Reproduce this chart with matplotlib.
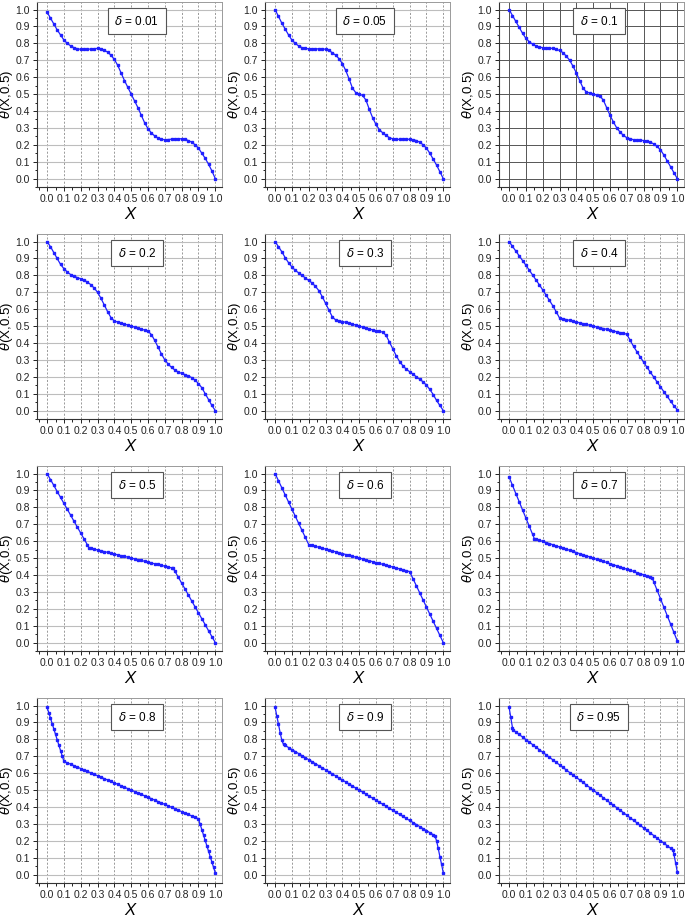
import matplotlib
matplotlib.use('Agg')
import matplotlib.pyplot as plt
from matplotlib.ticker import MultipleLocator, FormatStrFormatter

plt.rcParams['font.family'] = ['Liberation Sans', 'DejaVu Sans']
plt.rcParams['mathtext.fontset'] = 'dejavusans'

# ---------------- data ----------------
X02 = [0.00, 0.02, 0.04, 0.06, 0.08, 0.10, 0.12, 0.14, 0.16, 0.18, 0.20, 0.22, 0.24,
       0.26, 0.28, 0.30, 0.32, 0.34, 0.36, 0.38, 0.40, 0.42, 0.44, 0.46, 0.48, 0.50,
       0.52, 0.54, 0.56, 0.58, 0.60, 0.62, 0.64, 0.66, 0.68, 0.70, 0.72, 0.74, 0.76,
       0.78, 0.80, 0.82, 0.84, 0.86, 0.88, 0.90, 0.92, 0.94, 0.96, 0.98, 1.00]

deltas = ['0.01', '0.05', '0.1', '0.2', '0.3', '0.4', '0.5', '0.6', '0.7', '0.8', '0.9', '0.95']

x_d001 = X02
y_d001 = [0.985, 0.95, 0.915, 0.88, 0.85, 0.82, 0.80, 0.785, 0.775, 0.768, 0.765, 0.764, 0.765,
          0.767, 0.769, 0.77, 0.768, 0.76, 0.748, 0.73, 0.705, 0.67, 0.625, 0.58, 0.54, 0.50,
          0.46, 0.42, 0.375, 0.33, 0.295, 0.27, 0.252, 0.24, 0.232, 0.23, 0.231, 0.233, 0.235,
          0.236, 0.235, 0.232, 0.225, 0.215, 0.20, 0.18, 0.15, 0.12, 0.085, 0.045, 0.0]

x_d005 = X02
y_d005 = [1.0, 0.96, 0.92, 0.885, 0.85, 0.82, 0.80, 0.785, 0.775, 0.77, 0.768, 0.767, 0.767,
          0.768, 0.768, 0.765, 0.758, 0.745, 0.73, 0.71, 0.68, 0.64, 0.59, 0.535, 0.508, 0.50,
          0.492, 0.465, 0.41, 0.36, 0.32, 0.29, 0.27, 0.255, 0.242, 0.235, 0.232, 0.232, 0.233,
          0.233, 0.232, 0.23, 0.225, 0.215, 0.20, 0.18, 0.15, 0.115, 0.08, 0.04, 0.0]

x_d01 = X02
y_d01 = [1.0, 0.965, 0.93, 0.895, 0.86, 0.83, 0.81, 0.795, 0.785, 0.778, 0.775, 0.773, 0.772,
         0.77, 0.765, 0.758, 0.745, 0.725, 0.70, 0.665, 0.625, 0.58, 0.535, 0.512, 0.506, 0.50,
         0.494, 0.488, 0.465, 0.42, 0.375, 0.335, 0.30, 0.275, 0.255, 0.242, 0.235, 0.23, 0.228,
         0.227, 0.225, 0.222, 0.215, 0.205, 0.19, 0.17, 0.14, 0.105, 0.07, 0.035, 0.0]

x_d02 = X02
y_d02 = [1.0, 0.97, 0.935, 0.90, 0.865, 0.84, 0.82, 0.805, 0.795, 0.787, 0.78, 0.772, 0.76,
         0.745, 0.725, 0.70, 0.665, 0.625, 0.585, 0.55, 0.53, 0.524, 0.518, 0.512, 0.506, 0.50,
         0.494, 0.488, 0.482, 0.476, 0.47, 0.45, 0.415, 0.375, 0.335, 0.30, 0.275, 0.255, 0.24,
         0.228, 0.22, 0.213, 0.205, 0.195, 0.18, 0.16, 0.135, 0.10, 0.065, 0.03, 0.0]

x_d03 = X02
y_d03 = [1.0, 0.97, 0.94, 0.905, 0.875, 0.85, 0.83, 0.815, 0.80, 0.785, 0.77, 0.755, 0.735,
         0.71, 0.675, 0.635, 0.595, 0.555, 0.536, 0.531, 0.527, 0.522, 0.518, 0.511, 0.506, 0.50,
         0.494, 0.489, 0.482, 0.478, 0.473, 0.469, 0.464, 0.445, 0.405, 0.365, 0.325, 0.29, 0.265,
         0.245, 0.23, 0.215, 0.20, 0.185, 0.17, 0.15, 0.125, 0.095, 0.06, 0.03, 0.0]

x_d04 = X02
y_d04 = [1.0, 0.972, 0.944, 0.916, 0.888, 0.86, 0.831, 0.802, 0.773, 0.744, 0.714, 0.683, 0.652,
         0.62, 0.585, 0.548, 0.5432, 0.5384, 0.5336, 0.5288, 0.524, 0.5192, 0.5144, 0.5096, 0.5048, 0.50,
         0.4952, 0.4904, 0.4856, 0.4808, 0.476, 0.4712, 0.4664, 0.4616, 0.4568, 0.452, 0.415, 0.38, 0.348,
         0.317, 0.286, 0.256, 0.227, 0.198, 0.169, 0.14, 0.112, 0.084, 0.056, 0.028, 0.005]

x_d05 = sorted(X02 + [0.25, 0.75])
y_d05 = [1.0, 0.965, 0.93, 0.894, 0.859, 0.824, 0.789, 0.754, 0.718, 0.683, 0.648, 0.613, 0.578,
         0.56, 0.558, 0.553, 0.548, 0.543, 0.538, 0.534, 0.529, 0.524, 0.519, 0.514, 0.51, 0.505, 0.50,
         0.495, 0.49, 0.486, 0.481, 0.476, 0.471, 0.466, 0.462, 0.457, 0.452, 0.447, 0.442, 0.44,
         0.422, 0.387, 0.352, 0.317, 0.282, 0.246, 0.211, 0.176, 0.141, 0.106, 0.07, 0.035, 0.0]

x_d06 = X02
y_d06 = [1.0, 0.958, 0.916, 0.874, 0.832, 0.79, 0.748, 0.706, 0.664, 0.622, 0.58, 0.575, 0.569,
         0.564, 0.559, 0.553, 0.548, 0.543, 0.537, 0.532, 0.527, 0.521, 0.516, 0.511, 0.505, 0.50,
         0.495, 0.489, 0.484, 0.479, 0.473, 0.468, 0.463, 0.457, 0.452, 0.447, 0.441, 0.436, 0.431,
         0.425, 0.42, 0.378, 0.336, 0.294, 0.252, 0.21, 0.168, 0.126, 0.084, 0.042, 0.0]

x_d07 = sorted(X02 + [0.15, 0.85])
y_d07 = [0.98, 0.931, 0.882, 0.834, 0.785, 0.737, 0.688, 0.64, 0.615, 0.612, 0.605, 0.599, 0.592,
         0.586, 0.579, 0.572, 0.566, 0.559, 0.553, 0.546, 0.539, 0.533, 0.526, 0.52, 0.513, 0.507, 0.50,
         0.493, 0.487, 0.48, 0.474, 0.467, 0.461, 0.454, 0.447, 0.441, 0.434, 0.428, 0.421, 0.414,
         0.408, 0.401, 0.395, 0.388, 0.385, 0.36, 0.31, 0.26, 0.21, 0.16, 0.11, 0.06, 0.01]

x_d08 = sorted(X02 + [0.01, 0.03, 0.05, 0.07, 0.09, 0.91, 0.93, 0.95, 0.97, 0.99])
y_d08 = [0.99, 0.958, 0.926, 0.894, 0.862, 0.83, 0.798, 0.766, 0.734, 0.702, 0.67,
         0.6615, 0.653, 0.6445, 0.636, 0.6275, 0.619, 0.6105, 0.602, 0.5935, 0.585, 0.5765, 0.568,
         0.5595, 0.551, 0.5425, 0.534, 0.5255, 0.517, 0.5085, 0.50,
         0.4915, 0.483, 0.4745, 0.466, 0.4575, 0.449, 0.4405, 0.432, 0.4235, 0.415, 0.4065, 0.398,
         0.3895, 0.381, 0.3725, 0.364, 0.3555, 0.347, 0.3385, 0.33,
         0.298, 0.266, 0.234, 0.202, 0.17, 0.138, 0.106, 0.074, 0.042, 0.01]

x_d09 = sorted(X02 + [0.01, 0.03, 0.05, 0.95, 0.97, 0.99])
y_d09 = [0.99, 0.94, 0.89, 0.84, 0.795, 0.77,
         0.764, 0.752, 0.74, 0.728, 0.716, 0.704, 0.692, 0.68, 0.668, 0.656, 0.644, 0.632, 0.62,
         0.608, 0.596, 0.584, 0.572, 0.56, 0.548, 0.536, 0.524, 0.512, 0.50,
         0.488, 0.476, 0.464, 0.452, 0.44, 0.428, 0.416, 0.404, 0.392, 0.38, 0.368, 0.356, 0.344,
         0.332, 0.32, 0.308, 0.296, 0.284, 0.272, 0.26, 0.248, 0.236,
         0.23, 0.20, 0.155, 0.105, 0.06, 0.01]

x_d095 = sorted(X02 + [0.01, 0.025, 0.975, 0.99])
y_d095 = [0.99, 0.93, 0.87, 0.855,
          0.844, 0.829, 0.814, 0.799, 0.784, 0.769, 0.754, 0.739, 0.724, 0.709, 0.694, 0.679,
          0.664, 0.649, 0.634, 0.619, 0.604, 0.589, 0.575, 0.56, 0.545, 0.53, 0.515, 0.50,
          0.485, 0.47, 0.455, 0.44, 0.425, 0.411, 0.396, 0.381, 0.366, 0.351, 0.336, 0.321,
          0.306, 0.291, 0.276, 0.261, 0.246, 0.231, 0.216, 0.201, 0.186, 0.171, 0.156,
          0.145, 0.12, 0.07, 0.015]

series_x = [x_d001, x_d005, x_d01, x_d02, x_d03, x_d04, x_d05, x_d06, x_d07, x_d08, x_d09, x_d095]
series_y = [y_d001, y_d005, y_d01, y_d02, y_d03, y_d04, y_d05, y_d06, y_d07, y_d08, y_d09, y_d095]

# ---------------- layout ----------------
W, H = 685, 919
fig = plt.figure(figsize=(W / 100, H / 100), dpi=100)
col_left = [37, 265, 499]
row_top = [2, 234, 466, 698]
aw, ah = 185, 185

for i, (d, xs, ys) in enumerate(zip(deltas, series_x, series_y)):
    r, c = divmod(i, 3)
    ax = fig.add_axes([col_left[c] / W, 1 - (row_top[r] + ah) / H, aw / W, ah / H])
    ax.set_xlim(-0.06, 1.04)
    ax.set_ylim(-0.05, 1.045)
    ax.xaxis.set_major_locator(MultipleLocator(0.1))
    ax.yaxis.set_major_locator(MultipleLocator(0.1))
    ax.xaxis.set_minor_locator(MultipleLocator(0.05))
    ax.yaxis.set_minor_locator(MultipleLocator(0.05))
    ax.xaxis.set_major_formatter(FormatStrFormatter('%.1f'))
    ax.yaxis.set_major_formatter(FormatStrFormatter('%.1f'))
    ax.tick_params(which='both', direction='out', labelsize=7.5, colors='#222222',
                   top=False, right=False, width=0.7)
    ax.tick_params(which='major', length=3, pad=2)
    ax.tick_params(which='minor', length=1.8)
    if d == '0.1':
        ax.grid(True, which='major', axis='both', color='#555555', lw=0.7, ls='-')
    else:
        ax.grid(True, which='major', axis='y', color='#bdbdbd', lw=0.8, ls='-')
        ax.grid(True, which='major', axis='x', color='#8a8a8a', lw=0.6, ls=(0, (2.5, 2)))
    ax.set_axisbelow(True)
    for s in ['left', 'bottom']:
        ax.spines[s].set_color('#333333')
        ax.spines[s].set_linewidth(0.8)
    for s in ['top', 'right']:
        ax.spines[s].set_color('#9a9a9a')
        ax.spines[s].set_linewidth(0.7)
    ax.plot(xs, ys, color='#2020ff', lw=0.9, marker='s', ms=1.6, mec='#2020ff', mfc='#2020ff', zorder=3)
    ax.set_xlabel('X', fontsize=12, fontstyle='italic')
    ax.set_ylabel(r'$\theta$(X,0.5)', fontsize=9.5)
    ax.xaxis.set_label_coords(0.5, -0.11)
    ax.yaxis.set_label_coords(-0.118, 0.5)
    ax.text(0.54, 0.895, r'$\delta$ = ' + d, transform=ax.transAxes, ha='center', va='center',
            fontsize=8.5, zorder=5,
            bbox=dict(boxstyle='square,pad=0.55', fc='white', ec='#555555', lw=0.8))

fig.savefig('out.png', dpi=100)
